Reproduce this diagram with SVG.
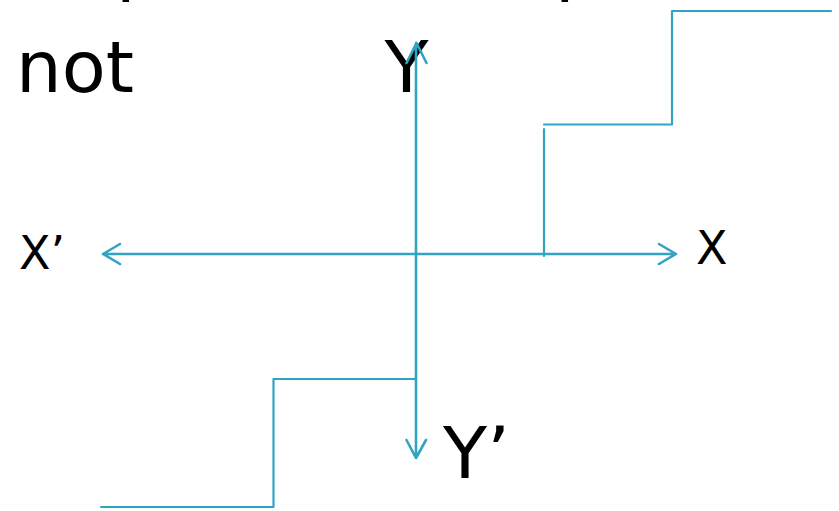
<svg xmlns="http://www.w3.org/2000/svg" width="839" height="511" viewBox="0 0 839 511">
<style>
.t{font-family:"DejaVu Sans","Open Sans",sans-serif;fill:#000}
.big{font-size:72px}
.mid{font-size:46px}
.ln{fill:none;stroke:#30a4c2;stroke-width:2.2;stroke-linecap:round;stroke-linejoin:round}
.ax{fill:none;stroke:#30a4c2;stroke-width:2.6;stroke-linecap:round;stroke-linejoin:round}
</style>
<rect width="839" height="511" fill="#fff"/>
<g id="clipped-top">
<text class="t big" x="55" y="-13">(</text>
<text class="t big" x="116" y="-13">p</text>
<text class="t big" x="555" y="-13">p</text>
<text class="t big" x="660" y="-13">)</text>
</g>
<g id="label-not"><text class="t big" x="16" y="92">not</text></g>
<g id="label-Y"><text class="t big" x="406.5" y="92" text-anchor="middle">Y</text></g>
<g id="label-Yp"><text class="t big" x="443" y="478">Y’</text></g>
<g id="label-X"><text class="t mid" x="696" y="264">X</text></g>
<g id="label-Xp"><text class="t mid" x="19" y="269">X’</text></g>
<g id="connectors">
<path class="ax" d="M103 254H676M120 244L103 254L120 264M659 244L676 254L659 264"/>
<path class="ax" d="M416 43V458M406.5 63L416.5 43L426.5 63M406.5 440L416 458L426 440"/>
<path class="ln" d="M544 256V129M544 124.5H672V11H831"/>
<path class="ln" d="M101 507H273.5V379H416"/>
</g>
</svg>
